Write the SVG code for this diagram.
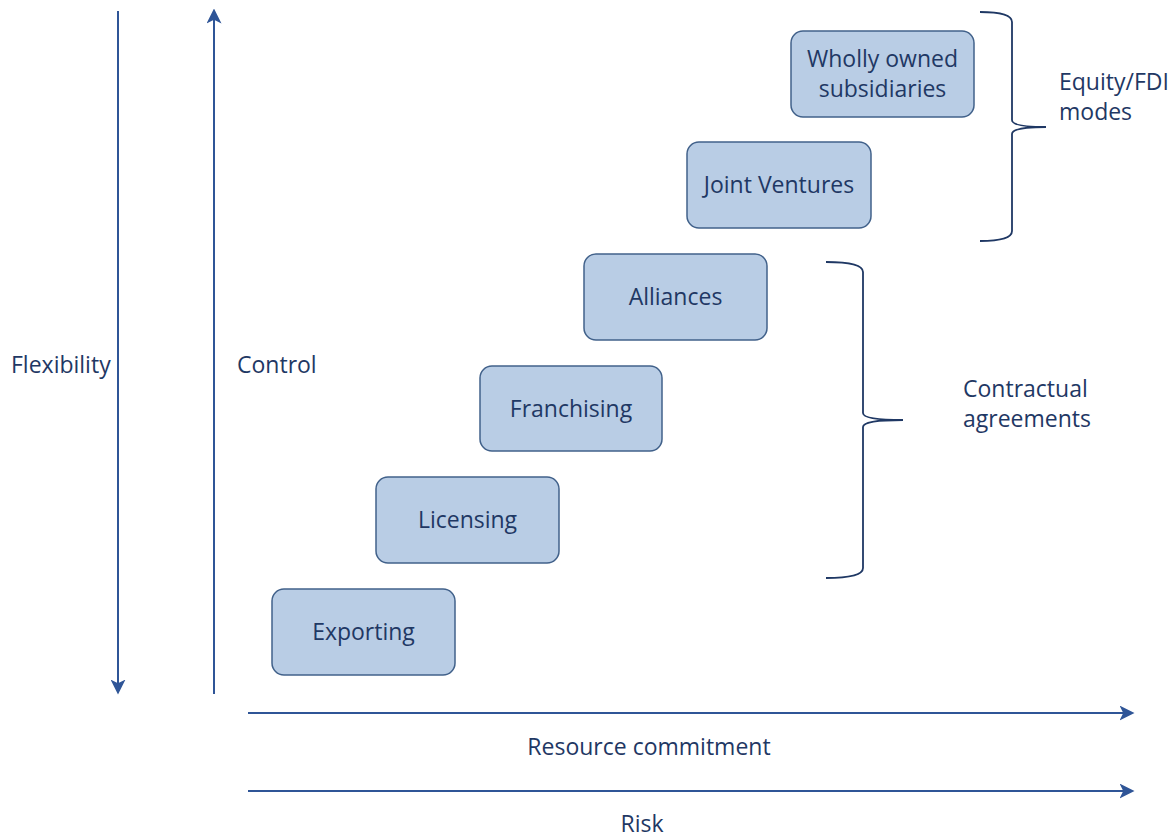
<svg xmlns="http://www.w3.org/2000/svg" width="1173" height="837" viewBox="0 0 1173 837">
<defs>
<marker id="arr" viewBox="0 0 12 12" refX="10" refY="6" markerWidth="15" markerHeight="15" orient="auto" markerUnits="userSpaceOnUse">
<path d="M0,0 L12,6 L0,12 L3,6 Z" fill="#2f5597"/>
</marker>
<style>
.box{fill:#b9cde5;stroke:#41618a;stroke-width:1.5}
.t{font-family:"Open Sans","Liberation Sans",sans-serif;font-size:23px;fill:#1f3864}
.ax{stroke:#2f5597;stroke-width:2;fill:none}
.br{stroke:#1f3864;stroke-width:1.8;fill:none}
</style>
</defs>
<rect width="1173" height="837" fill="#ffffff"/>
<g id="connectors">
<line class="ax" x1="118" y1="11" x2="118" y2="692" marker-end="url(#arr)"/>
<line class="ax" x1="214" y1="694" x2="214" y2="11" marker-end="url(#arr)"/>
<line class="ax" x1="248" y1="713" x2="1132" y2="713" marker-end="url(#arr)"/>
<line class="ax" x1="248" y1="791" x2="1132" y2="791" marker-end="url(#arr)"/>
<path class="br" d="M980,12 Q1012,12 1012,22 L1012,120 Q1012,127 1046,127 Q1012,127 1012,134 L1012,231 Q1012,241 980,241"/>
<path class="br" d="M826,262 Q863,262 863,272 L863,413 Q863,420 903,420 Q863,420 863,427 L863,568 Q863,578 826,578"/>
</g>
<g id="exporting"><rect class="box" x="272" y="589" width="183" height="86" rx="12"/><text class="t" x="363.5" y="640" text-anchor="middle">Exporting</text></g>
<g id="licensing"><rect class="box" x="376" y="477" width="183" height="86" rx="12"/><text class="t" x="467.5" y="528" text-anchor="middle">Licensing</text></g>
<g id="franchising"><rect class="box" x="480" y="366" width="182" height="85" rx="12"/><text class="t" x="571" y="417" text-anchor="middle">Franchising</text></g>
<g id="alliances"><rect class="box" x="584" y="254" width="183" height="86" rx="12"/><text class="t" x="675.5" y="305" text-anchor="middle">Alliances</text></g>
<g id="joint-ventures"><rect class="box" x="687" y="142" width="184" height="86" rx="12"/><text class="t" x="779" y="193" text-anchor="middle">Joint Ventures</text></g>
<g id="wholly-owned"><rect class="box" x="791" y="31" width="183" height="86" rx="12"/><text class="t" x="882.5" y="67" text-anchor="middle">Wholly owned</text><text class="t" x="882.5" y="97" text-anchor="middle">subsidiaries</text></g>
<g id="labels">
<text class="t" x="11" y="373">Flexibility</text>
<text class="t" x="237" y="373">Control</text>
<text class="t" x="1059" y="90">Equity/FDI</text>
<text class="t" x="1059" y="120">modes</text>
<text class="t" x="963" y="397">Contractual</text>
<text class="t" x="963" y="427">agreements</text>
<text class="t" x="649" y="755" text-anchor="middle">Resource commitment</text>
<text class="t" x="642" y="832" text-anchor="middle">Risk</text>
</g>
</svg>
